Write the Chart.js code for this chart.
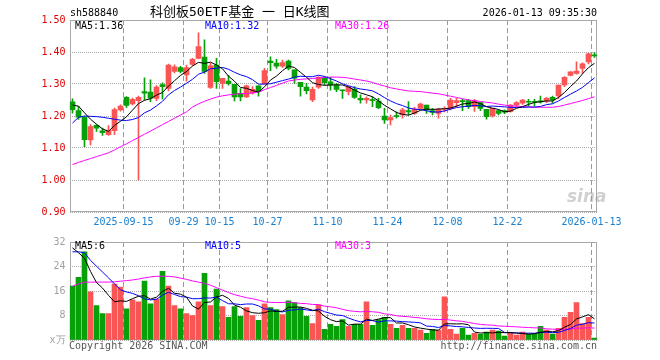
<!DOCTYPE html>
<html>
<head>
<meta charset="utf-8">
<script src="https://cdn.jsdelivr.net/npm/chart.js@4.4.1/dist/chart.umd.min.js"></script>
<style>
body { margin: 0; width: 660px; height: 360px; background: #fff; position: relative; overflow: hidden;
       font-family: "DejaVu Sans Mono", "Noto Sans CJK SC", monospace; font-size: 10px; }
.t { position: absolute; white-space: nowrap; line-height: 12px; }
#c1 { position: absolute; left: 0; top: 0; }
#c2 { position: absolute; left: 0; top: 232px; }
</style>
</head>
<body>
<canvas id="c1" width="660" height="232"></canvas>
<canvas id="c2" width="660" height="128"></canvas>

<div class="t" style="left:70px;top:7px;color:#000">sh588840</div>
<div class="t" style="left:150px;top:4px;font-size:13px;line-height:16px;color:#000;font-family:'DejaVu Sans Mono','Noto Sans CJK SC'">科创板50ETF基金 一 日K线图</div>
<div class="t" style="right:63px;top:7px;color:#000">2026-01-13 09:35:30</div>

<div class="t" style="left:75px;top:20px;color:#000">MA5:1.36</div>
<div class="t" style="left:205px;top:20px;color:#0000ff">MA10:1.32</div>
<div class="t" style="left:335px;top:20px;color:#ff00ff">MA30:1.26</div>

<div class="t" style="left:75px;top:240px;color:#000">MA5:6</div>
<div class="t" style="left:205px;top:240px;color:#0000ff">MA10:5</div>
<div class="t" style="left:335px;top:240px;color:#ff00ff">MA30:3</div>

<div class="t" style="left:567px;top:186px;font:italic bold 17px 'DejaVu Sans';color:rgba(150,150,150,0.45)">sina</div>

<div class="t" style="left:69px;top:340px;color:#555">Copyright 2026 SINA.COM</div>
<div class="t" style="right:63px;top:340px;color:#555">http://finance.sina.com.cn</div>

<script>
// 交易日 2025-09-02 .. 2026-01-13
var dates = [
  '2025-09-02','2025-09-03','2025-09-04','2025-09-05','2025-09-08','2025-09-09','2025-09-10','2025-09-11','2025-09-12','2025-09-15',
  '2025-09-16','2025-09-17','2025-09-18','2025-09-19','2025-09-22','2025-09-23','2025-09-24','2025-09-25','2025-09-26','2025-09-29',
  '2025-09-30','2025-10-09','2025-10-10','2025-10-13','2025-10-14','2025-10-15','2025-10-16','2025-10-17','2025-10-20','2025-10-21',
  '2025-10-22','2025-10-23','2025-10-24','2025-10-27','2025-10-28','2025-10-29','2025-10-30','2025-10-31','2025-11-03','2025-11-04',
  '2025-11-05','2025-11-06','2025-11-07','2025-11-10','2025-11-11','2025-11-12','2025-11-13','2025-11-14','2025-11-17','2025-11-18',
  '2025-11-19','2025-11-20','2025-11-21','2025-11-24','2025-11-25','2025-11-26','2025-11-27','2025-11-28','2025-12-01','2025-12-02',
  '2025-12-03','2025-12-04','2025-12-05','2025-12-08','2025-12-09','2025-12-10','2025-12-11','2025-12-12','2025-12-15','2025-12-16',
  '2025-12-17','2025-12-18','2025-12-19','2025-12-22','2025-12-23','2025-12-24','2025-12-25','2025-12-26','2025-12-29','2025-12-30',
  '2025-12-31','2026-01-05','2026-01-06','2026-01-07','2026-01-08','2026-01-09','2026-01-12','2026-01-13'
];

// x轴刻度
var tickDates = ['2025-09-15','2025-09-29','2025-10-15','2025-10-27','2025-11-10','2025-11-24','2025-12-08','2025-12-22','2026-01-13'];
var tickTexts = ['2025-09-15','09-29','10-15','10-27','11-10','11-24','12-08','12-22','2026-01-13'];

var opens = [
  1.244,1.217,1.196,1.125,1.171,1.154,1.142,1.154,1.219,1.258,
  1.238,1.248,1.276,1.275,1.255,1.298,1.286,1.339,1.351,1.328,
  1.361,1.380,1.384,1.289,1.359,1.302,1.309,1.299,1.271,1.260,
  1.271,1.294,1.300,1.372,1.365,1.356,1.372,1.344,1.305,1.290,
  1.250,1.290,1.318,1.307,1.297,1.281,1.276,1.283,1.255,1.250,
  1.250,1.247,1.200,1.188,1.200,1.203,1.217,1.208,1.224,1.234,
  1.217,1.208,1.221,1.224,1.242,1.248,1.248,1.229,1.242,1.221,
  1.200,1.217,1.217,1.214,1.234,1.240,1.245,1.245,1.247,1.247,
  1.258,1.263,1.297,1.327,1.333,1.349,1.369,1.390
];
var closes = [
  1.220,1.196,1.126,1.167,1.162,1.148,1.156,1.220,1.231,1.233,
  1.252,1.258,1.271,1.256,1.290,1.292,1.359,1.354,1.339,1.351,
  1.377,1.417,1.339,1.357,1.307,1.318,1.301,1.260,1.260,1.294,
  1.283,1.276,1.342,1.367,1.356,1.367,1.349,1.318,1.292,1.279,
  1.283,1.321,1.304,1.297,1.283,1.279,1.290,1.258,1.250,1.255,
  1.248,1.226,1.188,1.195,1.198,1.219,1.213,1.222,1.237,1.219,
  1.211,1.221,1.224,1.250,1.248,1.245,1.229,1.248,1.224,1.198,
  1.224,1.208,1.212,1.234,1.242,1.250,1.243,1.243,1.244,1.255,
  1.250,1.297,1.321,1.338,1.340,1.363,1.394,1.388
];
var highs = [
  1.254,1.230,1.199,1.173,1.173,1.162,1.170,1.225,1.235,1.261,
  1.256,1.262,1.319,1.313,1.295,1.304,1.362,1.360,1.355,1.359,
  1.380,1.460,1.438,1.365,1.380,1.318,1.327,1.299,1.286,1.297,
  1.292,1.294,1.349,1.385,1.377,1.375,1.375,1.344,1.305,1.302,
  1.290,1.323,1.323,1.321,1.302,1.281,1.292,1.292,1.266,1.260,
  1.260,1.255,1.224,1.203,1.213,1.224,1.245,1.227,1.240,1.234,
  1.224,1.224,1.229,1.255,1.255,1.252,1.252,1.252,1.242,1.221,
  1.224,1.219,1.219,1.236,1.245,1.252,1.252,1.252,1.262,1.258,
  1.262,1.297,1.323,1.339,1.369,1.366,1.396,1.398
];
var lows = [
  1.209,1.189,1.104,1.110,1.152,1.139,1.139,1.142,1.215,1.227,
  1.235,1.000,1.250,1.245,1.248,1.253,1.278,1.335,1.335,1.309,
  1.358,1.378,1.333,1.286,1.286,1.286,1.296,1.247,1.247,1.257,
  1.268,1.262,1.300,1.342,1.349,1.352,1.344,1.302,1.262,1.269,
  1.245,1.286,1.297,1.281,1.276,1.255,1.266,1.255,1.240,1.240,
  1.229,1.223,1.177,1.172,1.193,1.193,1.203,1.205,1.222,1.208,
  1.203,1.193,1.213,1.219,1.229,1.217,1.224,1.214,1.217,1.190,
  1.196,1.203,1.207,1.212,1.230,1.236,1.231,1.231,1.240,1.242,
  1.240,1.255,1.292,1.325,1.331,1.333,1.363,1.383
];
// 成交量(万)
var volumes = [
  17.6,20.5,28.8,15.7,11.2,8.6,8.6,18.3,17.3,10.2,
  13.1,12.5,19.2,11.8,13.4,22.4,17.6,11.2,10.2,8.6,
  8.0,12.5,21.8,11.2,16.6,10.9,7.4,10.9,7.7,10.6,
  8.0,6.4,11.8,10.6,9.9,8.3,12.8,12.2,10.6,7.7,
  5.4,11.5,3.5,5.1,4.5,6.7,4.5,5.1,5.1,12.5,
  4.8,6.7,7.4,5.1,3.8,4.8,3.8,3.8,3.2,2.2,
  3.5,3.2,14.1,3.5,1.9,3.8,1.6,2.2,1.9,2.6,
  3.2,2.9,1.3,2.2,1.6,2.6,1.9,1.9,4.5,3.2,
  1.9,3.8,7.4,9.0,12.2,5.4,7.4,0.6
];

// 均线起始段(窗口之前的数据不在图内, 直接从图上读)
var ma5Head = [1.234,1.231,1.210,1.190];
var ma10Head = [1.178,1.196,1.200,1.199,1.198,1.196,1.193,1.190,1.187];
var ma30Head = [1.048,1.055,1.061,1.067,1.073,1.079,1.085,1.094,1.104,1.113,
  1.123,1.133,1.143,1.153,1.163,1.173,1.183,1.193,1.203,1.213,
  1.228,1.238,1.246,1.253,1.259,1.263,1.266,1.268,1.270];
var volMa5Head = [30.1,28.5,26.7,22.4];
var volMa10Head = [28.8,28.8,28.5,26.0,24.1,22.2,20.3,18.3,16.4];
var volMa30Head = [17.6,18.3,18.9,18.9,18.9,18.9,18.9,19.0,19.2,19.4,
  19.6,19.9,20.3,20.6,20.8,20.8,20.8,20.6,20.2,19.8,
  19.3,18.9,18.5,17.9,17.1,16.3,15.5,14.8,14.3];

var UP = '#fa5555';
var DOWN = '#08a008';

function movingAvg(src, n, head) {
  return src.map(function(v, i) {
    if (i < n - 1) return head[i];
    var s = 0;
    for (var k = i - n + 1; k <= i; k++) s += src[k];
    return s / n;
  });
}

var colors = closes.map(function(c, i) { return c >= opens[i] ? UP : DOWN; });
var bodies = opens.map(function(o, i) { return [o, closes[i]]; });
var wicks = lows.map(function(l, i) { return [l, highs[i]]; });

function tickLabel(i) {
  var k = tickDates.indexOf(dates[i]);
  return k >= 0 ? tickTexts[k] : '';
}

var monoFont = { family: 'DejaVu Sans Mono', size: 10 };

// 边框
var framePlugin = {
  id: 'frame',
  beforeDatasetsDraw: function(chart) {
    var a = chart.chartArea, ctx = chart.ctx;
    var l = Math.ceil(a.left) + 0.5, r = Math.floor(a.right) - 0.5;
    var t = Math.ceil(a.top) + 0.5, b = Math.floor(a.bottom) - 0.5;
    ctx.save();
    ctx.strokeStyle = '#a8a8a8';
    ctx.lineWidth = 1;
    ctx.strokeRect(l, t, r - l, b - t);
    ctx.restore();
  }
};

function xScale(showLabels) {
  return {
    type: 'category',
    offset: true,
    grid: {
      offset: true,
      drawTicks: false,
      lineWidth: 1,
      color: function(c) { return (c.index !== undefined && tickLabel(c.index)) ? '#999' : 'rgba(0,0,0,0)'; }
    },
    border: { display: false, dash: [5, 3] },
    ticks: {
      display: showLabels,
      autoSkip: false,
      maxRotation: 0,
      padding: 4,
      labelOffset: -3,
      color: '#1a80d0',
      font: monoFont,
      callback: function(v, i) { return tickLabel(i); }
    },
    afterFit: function(s) { s.height = showLabels ? 20 : 0; }
  };
}

var lineBase = { type: 'line', borderWidth: 1, pointRadius: 0, tension: 0, fill: false, order: 0 };

new Chart(document.getElementById('c1'), {
  type: 'bar',
  data: {
    labels: dates,
    datasets: [
      Object.assign({}, lineBase, { data: movingAvg(closes, 5, ma5Head), borderColor: '#000000' }),
      Object.assign({}, lineBase, { data: movingAvg(closes, 10, ma10Head), borderColor: '#0000ff' }),
      Object.assign({}, lineBase, { data: movingAvg(closes, 30, ma30Head), borderColor: '#ff00ff' }),
      { type: 'bar', data: wicks, backgroundColor: colors, barThickness: 1, grouped: false, order: 2 },
      { type: 'bar', data: bodies, backgroundColor: colors, barThickness: 5, grouped: false, minBarLength: 1, order: 1 }
    ]
  },
  options: {
    responsive: false,
    animation: false,
    layout: { padding: { top: 20, right: 62.5, bottom: 0, left: 0 } },
    plugins: { legend: { display: false }, tooltip: { enabled: false } },
    scales: {
      x: xScale(true),
      y: {
        min: 0.9,
        max: 1.5,
        ticks: { stepSize: 0.1, padding: 4, color: '#e00000', font: monoFont,
                 callback: function(v) { return v.toFixed(2); } },
        grid: { color: '#aaaaaa', drawTicks: false },
        border: { display: false, dash: [1, 1] },
        afterFit: function(s) { s.width = 69.5; }
      }
    }
  },
  plugins: [framePlugin]
});

new Chart(document.getElementById('c2'), {
  type: 'bar',
  data: {
    labels: dates,
    datasets: [
      Object.assign({}, lineBase, { data: movingAvg(volumes, 5, volMa5Head), borderColor: '#000000' }),
      Object.assign({}, lineBase, { data: movingAvg(volumes, 10, volMa10Head), borderColor: '#0000ff' }),
      Object.assign({}, lineBase, { data: movingAvg(volumes, 30, volMa30Head), borderColor: '#ff00ff' }),
      { type: 'bar', data: volumes, backgroundColor: colors, barThickness: 5, order: 1 }
    ]
  },
  options: {
    responsive: false,
    animation: false,
    layout: { padding: { top: 9, right: 62.5, bottom: 20, left: 0 } },
    plugins: { legend: { display: false }, tooltip: { enabled: false } },
    scales: {
      x: xScale(false),
      y: {
        min: 0,
        max: 32,
        ticks: { stepSize: 8, padding: 4, color: '#a0a0a0', font: monoFont,
                 callback: function(v) { return v === 0 ? 'x万' : v; } },
        grid: { color: '#aaaaaa', drawTicks: false },
        border: { display: false, dash: [1, 1] },
        afterFit: function(s) { s.width = 69.5; }
      }
    }
  },
  plugins: [framePlugin]
});
</script>
</body>
</html>
